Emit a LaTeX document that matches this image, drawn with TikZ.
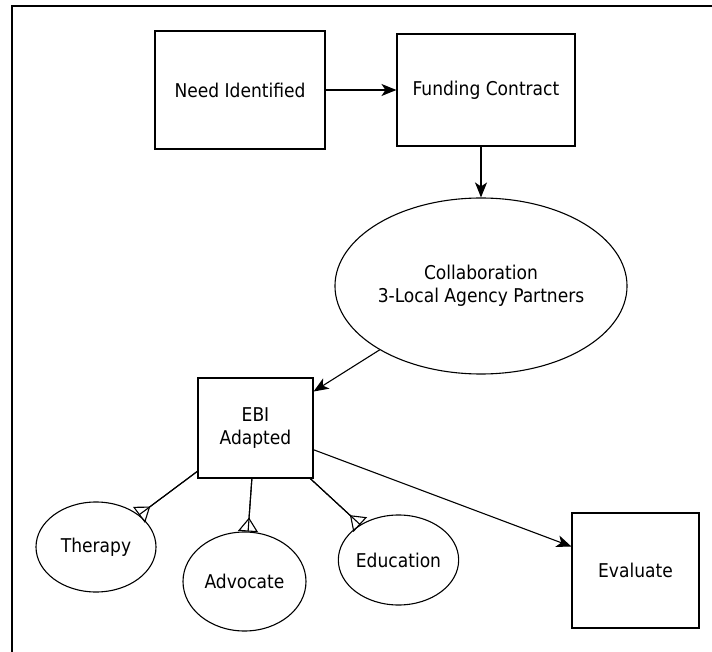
\documentclass[tikz,border=0pt]{standalone}
\usepackage{fontspec}
\setmainfont{DejaVu Sans Condensed}
\usetikzlibrary{
	arrows.meta,
	shapes.geometric
}
\tikzset{
	box/.style={draw, rectangle, line width=1.1pt, inner sep=0pt, align=center},
	oval/.style={draw, ellipse, line width=1.1pt, inner sep=0pt, align=center},
	arr/.style={line width=1.1pt, -{Stealth[length=15pt, width=12pt, inset=4pt]}},
	crow/.style={line width=1.1pt, postaction={draw, -{Triangle[open, reversed, length=14pt, width=20pt]}}}
}

\begin{document}
\begin{tikzpicture}[x=1pt, y=-1pt, font=\fontsize{19}{23}\selectfont]
		\useasboundingbox (0,0) rectangle (712,652);
		
		% 外框（只露出上边和左边）
		\draw[line width=2pt] (12,652) -- (12,6) -- (712,6);
		
		% 方框
		\node[box, minimum width=170pt, minimum height=118pt] (need) at (240,90) {Need Identified};
		\node[box, minimum width=178pt, minimum height=112pt] (fund) at (486,90) {Funding Contract};
		\node[box, minimum width=115pt, minimum height=100pt] (ebi) at (255.5,428) {EBI\\Adapted};
		\node[box, minimum width=127pt, minimum height=115pt] (eval) at (635.5,570.5) {Evaluate};
		
		% 椭圆
		\node[oval, minimum width=267pt, minimum height=176pt] (collab) at (481,286) {Collaboration\\3-Local Agency Partners};
		\node[oval, minimum width=120pt, minimum height=90pt] (therapy) at (96,547) {Therapy};
		\node[oval, minimum width=123pt, minimum height=99pt] (advocate) at (244.5,581.5) {Advocate};
		\node[oval, minimum width=119pt, minimum height=90pt] (educ) at (398.5,560) {Education};
		
		% 箭头
		\draw[arr] (need) -- (fund);
		\draw[arr] (fund.south -| collab.north) -- (collab.north);
		\draw[arr] (collab) -- (ebi);
		\draw[arr] (ebi) -- (eval);
		
		% 一对多连线
		\draw[crow] (ebi) -- (therapy);
		\draw[crow] (ebi) -- (advocate);
		\draw[crow] (ebi) -- (educ);
	\end{tikzpicture}
\end{document}
